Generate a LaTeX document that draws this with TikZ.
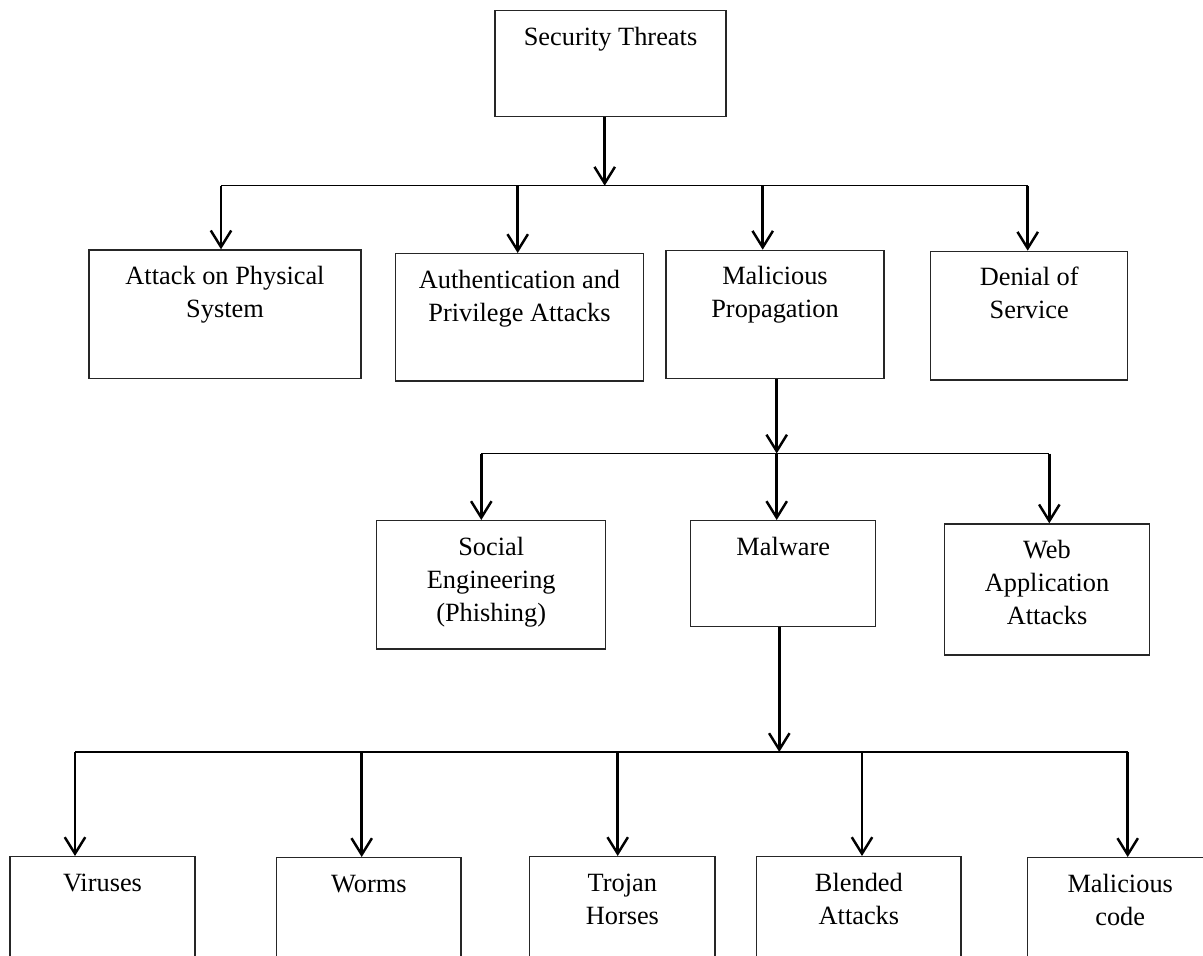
\documentclass[tikz,border=0pt]{standalone}
\usepackage{fontspec}
\setmainfont{Liberation Serif}
\usetikzlibrary{arrows.meta}

\begin{document}
\begin{tikzpicture}[
        x=0.02cm, y=-0.02cm,
        font=\fontsize{15pt}{18.8pt}\selectfont,
        box/.style = {
            draw=black!85,
            line width=0.8pt,
            rectangle,
            inner sep=0pt,
            anchor=north,
            align=center,
            text height=0.69cm,
        },
        two_lines/.style = {
            text height=1.35cm
        },
        three_lines/.style = {
            text height=2.01cm
        },
        bus/.style = {
            line width=0.8pt
        },
        arrow_line/.style = {
            line width=1.4pt,
            -{Straight Barb[length=0.33cm, width=0.41cm]}
        }
    ]

	    \useasboundingbox (0,0) rectangle (1203,956);
	    \clip (0,0) rectangle (1203,956);

	    \node[box, minimum width=4.62cm, text depth=1.43cm] (threats) at (610.5,10) {Security Threats};

	    \node[box, two_lines, minimum width=5.44cm, text depth=1.22cm] (physical) at (225,249.3) {Attack on Physical\\System};
	    \node[box, two_lines, minimum width=4.97cm, text depth=1.20cm] (auth) at (519.5,253) {Authentication and\\Privilege Attacks};
	    \node[box, two_lines, minimum width=4.36cm, text depth=1.21cm] (propagation) at (775,249.7) {Malicious\\Propagation};
	    \node[box, two_lines, minimum width=3.94cm, text depth=1.22cm] (dos) at (1029.2,250.7) {Denial of\\Service};

	    \node[box, three_lines, minimum width=4.58cm, text depth=0.56cm] (social) at (491.2,520) {Social\\Engineering\\(Phishing)};
	    \node[box, minimum width=3.70cm, text depth=1.43cm] (malware) at (783.2,520) {Malware};
	    \node[box, three_lines, minimum width=4.09cm, text depth=0.61cm] (webapp) at (1047,523.3) {Web\\Application\\Attacks};

	    \node[box, minimum width=3.70cm, text depth=1.91cm] (viruses) at (102.5,856) {Viruses};
	    \node[box, minimum width=3.69cm, text depth=1.91cm] (worms) at (368.9,857) {Worms};
	    \node[box, two_lines, minimum width=3.71cm, text depth=1.25cm] (trojan) at (622.4,856) {Trojan\\Horses};
	    \node[box, two_lines, minimum width=4.09cm, text depth=1.25cm] (blended) at (858.9,856) {Blended\\Attacks};
	    \node[box, two_lines, minimum width=3.70cm, text depth=1.25cm] (malcode) at (1120.2,857) {Malicious\\code};

	    % first split
	    \coordinate (j1) at (604.7,185.7);
	    \coordinate (p1) at (221,185.7);
	    \coordinate (p2) at (517.7,185.7);
	    \coordinate (p3) at (762.7,185.7);
	    \coordinate (p4) at (1027.7,185.7);

	    \draw[arrow_line] (threats.south -| j1) -- (j1);
	    \draw[bus] (p1) -- (p4);
	    \draw[arrow_line] (p1) -- (p1 |- physical.north);
	    \draw[arrow_line] (p2) -- (p2 |- auth.north);
	    \draw[arrow_line] (p3) -- (p3 |- propagation.north);
	    \draw[arrow_line] (p4) -- (p4 |- dos.north);

	    % second split
	    \coordinate (j2) at (776.7,453.5);
	    \coordinate (s1) at (481.3,453.5);
	    \coordinate (s3) at (1049.3,453.5);

	    \draw[arrow_line] (propagation.south -| j2) -- (j2);
	    \draw[bus] (s1) -- (s3);
	    \draw[arrow_line] (s1) -- (s1 |- social.north);
	    \draw[arrow_line] (j2) -- (j2 |- malware.north);
	    \draw[arrow_line] (s3) -- (s3 |- webapp.north);

	    % third split
	    \coordinate (j3) at (779.3,752);
	    \coordinate (m1) at (75,752);
	    \coordinate (m2) at (361.7,752);
	    \coordinate (m3) at (617.7,752);
	    \coordinate (m4) at (862,752);
	    \coordinate (m5) at (1127.7,752);

	    \draw[arrow_line] (malware.south -| j3) -- (j3);
	    \draw[bus] (m1) -- (m5);
	    \draw[arrow_line] (m1) -- (m1 |- viruses.north);
	    \draw[arrow_line] (m2) -- (m2 |- worms.north);
	    \draw[arrow_line] (m3) -- (m3 |- trojan.north);
	    \draw[arrow_line] (m4) -- (m4 |- blended.north);
	    \draw[arrow_line] (m5) -- (m5 |- malcode.north);

    \end{tikzpicture}
\end{document}
